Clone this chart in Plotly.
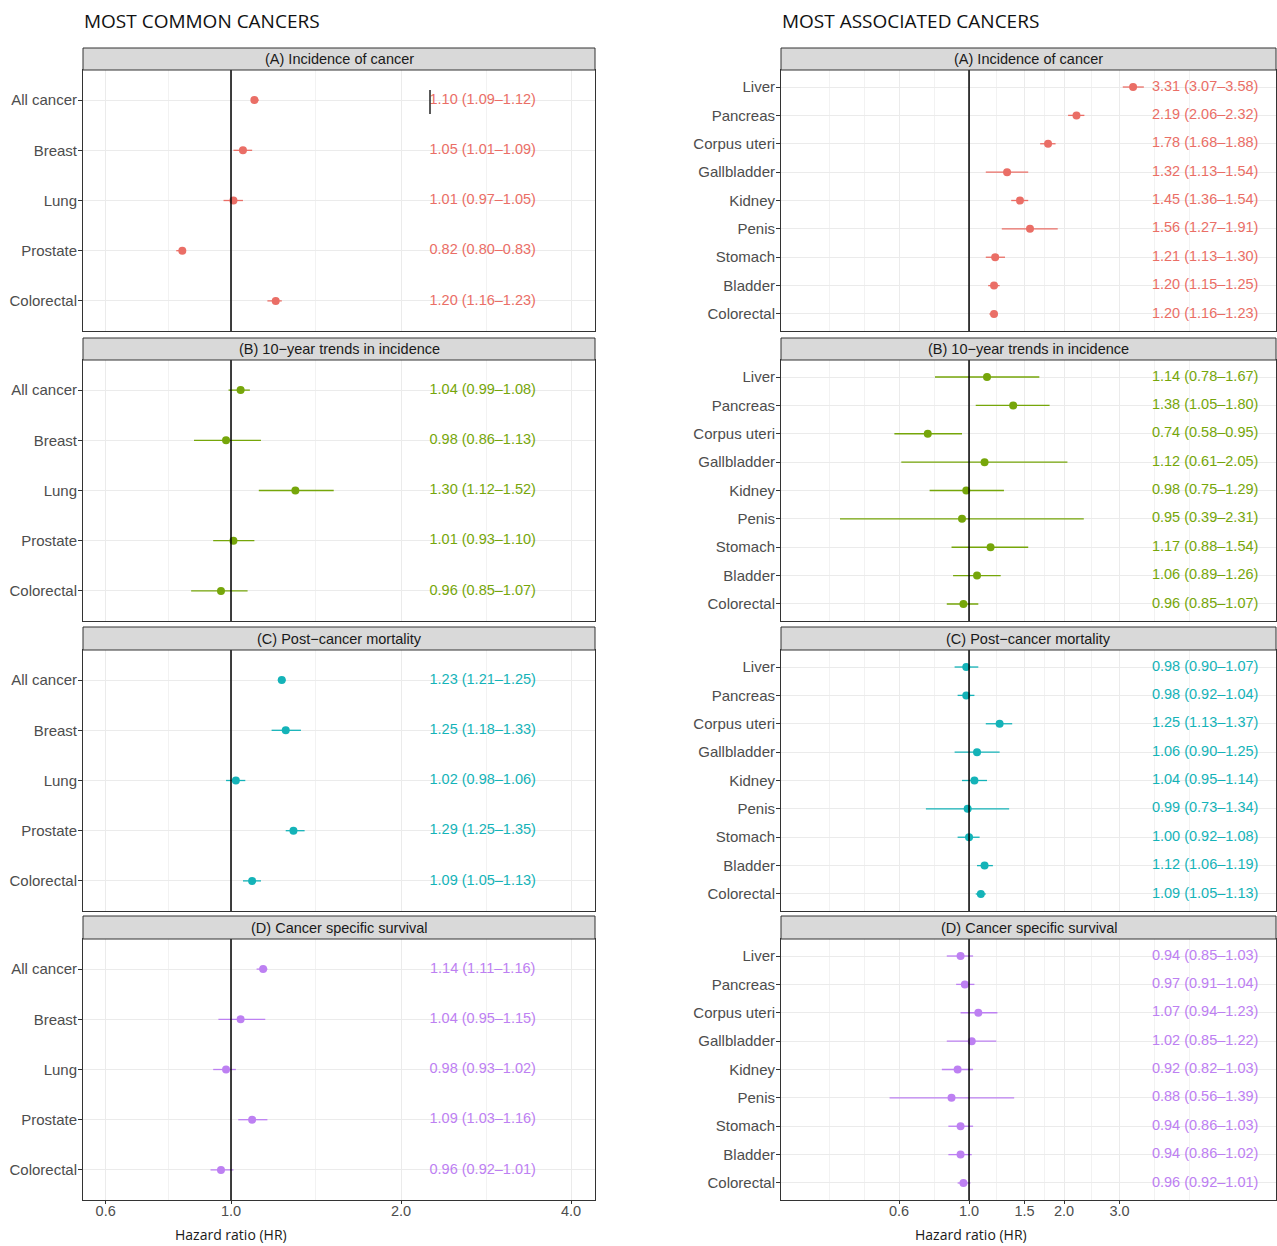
import math
import plotly.graph_objects as go

W, H = 1277, 1246

# ---------------- data ----------------
common_cancers = ["All cancer", "Breast", "Lung", "Prostate", "Colorectal"]
assoc_cancers = ["Liver", "Pancreas", "Corpus uteri", "Gallbladder", "Kidney",
                 "Penis", "Stomach", "Bladder", "Colorectal"]
panel_titles = ["(A) Incidence of cancer", "(B) 10\u2212year trends in incidence",
                "(C) Post\u2212cancer mortality", "(D) Cancer specific survival"]

common_A_hr = [1.10, 1.05, 1.01, 0.82, 1.20]
common_A_lo = [1.09, 1.01, 0.97, 0.80, 1.16]
common_A_hi = [1.12, 1.09, 1.05, 0.83, 1.23]
common_B_hr = [1.04, 0.98, 1.30, 1.01, 0.96]
common_B_lo = [0.99, 0.86, 1.12, 0.93, 0.85]
common_B_hi = [1.08, 1.13, 1.52, 1.10, 1.07]
common_C_hr = [1.23, 1.25, 1.02, 1.29, 1.09]
common_C_lo = [1.21, 1.18, 0.98, 1.25, 1.05]
common_C_hi = [1.25, 1.33, 1.06, 1.35, 1.13]
common_D_hr = [1.14, 1.04, 0.98, 1.09, 0.96]
common_D_lo = [1.11, 0.95, 0.93, 1.03, 0.92]
common_D_hi = [1.16, 1.15, 1.02, 1.16, 1.01]

assoc_A_hr = [3.31, 2.19, 1.78, 1.32, 1.45, 1.56, 1.21, 1.20, 1.20]
assoc_A_lo = [3.07, 2.06, 1.68, 1.13, 1.36, 1.27, 1.13, 1.15, 1.16]
assoc_A_hi = [3.58, 2.32, 1.88, 1.54, 1.54, 1.91, 1.30, 1.25, 1.23]
assoc_B_hr = [1.14, 1.38, 0.74, 1.12, 0.98, 0.95, 1.17, 1.06, 0.96]
assoc_B_lo = [0.78, 1.05, 0.58, 0.61, 0.75, 0.39, 0.88, 0.89, 0.85]
assoc_B_hi = [1.67, 1.80, 0.95, 2.05, 1.29, 2.31, 1.54, 1.26, 1.07]
assoc_C_hr = [0.98, 0.98, 1.25, 1.06, 1.04, 0.99, 1.00, 1.12, 1.09]
assoc_C_lo = [0.90, 0.92, 1.13, 0.90, 0.95, 0.73, 0.92, 1.06, 1.05]
assoc_C_hi = [1.07, 1.04, 1.37, 1.25, 1.14, 1.34, 1.08, 1.19, 1.13]
assoc_D_hr = [0.94, 0.97, 1.07, 1.02, 0.92, 0.88, 0.94, 0.94, 0.96]
assoc_D_lo = [0.85, 0.91, 0.94, 0.85, 0.82, 0.56, 0.86, 0.86, 0.92]
assoc_D_hi = [1.03, 1.04, 1.23, 1.22, 1.03, 1.39, 1.03, 1.02, 1.01]

left_ticks = [0.6, 1.0, 2.0, 4.0]
left_ticktext = ["0.6", "1.0", "2.0", "4.0"]
right_ticks = [0.6, 1.0, 1.5, 2.0, 3.0]
right_ticktext = ["0.6", "1.0", "1.5", "2.0", "3.0"]

# ---------------- styling / layout constants ----------------
colors = ["#EA6E66", "#76A60A", "#14B3B8", "#BD80F2"]
FONT = "Liberation Sans, Arial, sans-serif"
TITLE_FONT = "Open Sans, sans-serif"
left_minor = [0.775, 1.414, 2.83]
right_minor = [0.36, 0.465, 0.775, 1.225, 1.73, 2.45, 3.87, 5.0]
left_range = [math.log10(0.547), math.log10(4.41)]
right_range = [math.log10(0.2536), math.log10(9.39)]
TEXT_X_LEFT = 2.79
TEXT_X_RIGHT = 5.6

left_px = (83, 595)
right_px = (781, 1276)
# (strip top, panel top, panel bottom) in pixels
rows_px = [(48, 70, 331), (338, 360, 621), (627, 650, 911), (916, 939, 1200)]

def py(p):
    return 1 - p / H

def px(p):
    return p / W

common_data = [(common_A_hr, common_A_lo, common_A_hi), (common_B_hr, common_B_lo, common_B_hi),
               (common_C_hr, common_C_lo, common_C_hi), (common_D_hr, common_D_lo, common_D_hi)]
assoc_data = [(assoc_A_hr, assoc_A_lo, assoc_A_hi), (assoc_B_hr, assoc_B_lo, assoc_B_hi),
              (assoc_C_hr, assoc_C_lo, assoc_C_hi), (assoc_D_hr, assoc_D_lo, assoc_D_hi)]

fig = go.Figure()
layout = {}
shapes = []
annotations = []

k = 0
for col, (cats, datas, xpx, xrange_, ticks, ticktext, minors, textx) in enumerate([
        (common_cancers, common_data, left_px, left_range, left_ticks, left_ticktext, left_minor, TEXT_X_LEFT),
        (assoc_cancers, assoc_data, right_px, right_range, right_ticks, right_ticktext, right_minor, TEXT_X_RIGHT)]):
    n = len(cats)
    ypos = list(range(1, n + 1))
    for r, (hr, lo, hi) in enumerate(datas):
        k += 1
        suffix = "" if k == 1 else str(k)
        xa, ya = f"x{suffix}", f"y{suffix}"
        c = colors[r]
        # CI lines
        lx, ly = [], []
        for i in range(n):
            lx += [lo[i], hi[i], None]
            ly += [ypos[i], ypos[i], None]
        fig.add_trace(go.Scatter(x=lx, y=ly, mode="lines", line=dict(color=c, width=1.3),
                                 xaxis=xa, yaxis=ya, showlegend=False, hoverinfo="skip"))
        fig.add_trace(go.Scatter(x=hr, y=ypos, mode="markers", marker=dict(color=c, size=8),
                                 xaxis=xa, yaxis=ya, showlegend=False))
        labels = [f"{hr[i]:.2f} ({lo[i]:.2f}\u2013{hi[i]:.2f})" for i in range(n)]
        fig.add_trace(go.Scatter(x=[textx] * n, y=ypos, mode="text", text=labels,
                                 textposition="middle center",
                                 textfont=dict(color=c, size=14.5, family=FONT),
                                 xaxis=xa, yaxis=ya, showlegend=False, cliponaxis=False))
        st, pt, pb = rows_px[r]
        bottom = (r == 3)
        layout[f"xaxis{suffix}"] = dict(
            type="log", range=xrange_, domain=[px(xpx[0]), px(xpx[1])], anchor=ya,
            tickvals=ticks, ticktext=ticktext, showticklabels=bottom,
            ticks="outside" if bottom else "", ticklen=3, tickcolor="#333333",
            ticklabelstandoff=-5,
            tickfont=dict(family=FONT, size=14.5, color="#4D4D4D"),
            showgrid=True, gridcolor="#EBEBEB", gridwidth=1.1,
            minor=dict(tickvals=minors, showgrid=True, gridcolor="#F2F2F2", gridwidth=0.7, ticks=""),
            showline=True, mirror=True, linecolor="#333333", linewidth=1, zeroline=False,
        )
        layout[f"yaxis{suffix}"] = dict(
            domain=[py(pb), py(pt)], anchor=xa, range=[n + 0.6, 0.4],
            tickvals=ypos, ticktext=cats, ticks="outside", ticklen=4, tickcolor="#333333",
            ticklabelstandoff=-2,
            tickfont=dict(family=FONT, size=15, color="#4D4D4D"),
            showgrid=True, gridcolor="#EBEBEB", gridwidth=1.1,
            showline=True, mirror=True, linecolor="#333333", linewidth=1, zeroline=False,
        )
        # reference line at HR = 1
        shapes.append(dict(type="line", xref=xa, yref=f"{ya} domain", x0=1, x1=1, y0=0, y1=1,
                           line=dict(color="black", width=1.5)))
        # strip
        shapes.append(dict(type="rect", xref="paper", yref="paper",
                           x0=px(xpx[0]), x1=px(xpx[1]), y0=py(pt), y1=py(st),
                           fillcolor="#D9D9D9", line=dict(color="#333333", width=1)))
        annotations.append(dict(text=panel_titles[r], xref="paper", yref="paper",
                                x=(px(xpx[0]) + px(xpx[1])) / 2, y=py((st + pt) / 2),
                                xanchor="center", yanchor="middle", showarrow=False,
                                font=dict(family=FONT, size=14.5, color="#1A1A1A")))

# stray marker in the reference (top-left panel)
shapes.append(dict(type="line", xref="paper", yref="paper", x0=px(430), x1=px(430),
                   y0=py(90), y1=py(114), line=dict(color="#222222", width=1.5)))

# column titles
annotations.append(dict(text="MOST COMMON CANCERS", xref="paper", yref="paper",
                        x=px(82), y=py(21), xanchor="left", yanchor="middle", showarrow=False,
                        font=dict(family=TITLE_FONT, size=19, color="#111111")))
annotations.append(dict(text="MOST ASSOCIATED CANCERS", xref="paper", yref="paper",
                        x=px(780), y=py(21), xanchor="left", yanchor="middle", showarrow=False,
                        font=dict(family=TITLE_FONT, size=19, color="#111111")))
# x-axis titles
for xc in (231, 971):
    annotations.append(dict(text="Hazard ratio (HR)", xref="paper", yref="paper",
                            x=px(xc), y=py(1234), xanchor="center", yanchor="middle",
                            showarrow=False, font=dict(family=TITLE_FONT, size=14,
                                                       color="#1A1A1A")))

fig.update_layout(
    width=W, height=H, margin=dict(l=0, r=0, t=0, b=0),
    paper_bgcolor="white", plot_bgcolor="white",
    shapes=shapes, annotations=annotations, showlegend=False,
    **layout,
)

fig.write_html("out.html", config={"displayModeBar": False},
               post_script="document.body.style.margin='0px';document.body.style.overflow='hidden';")
